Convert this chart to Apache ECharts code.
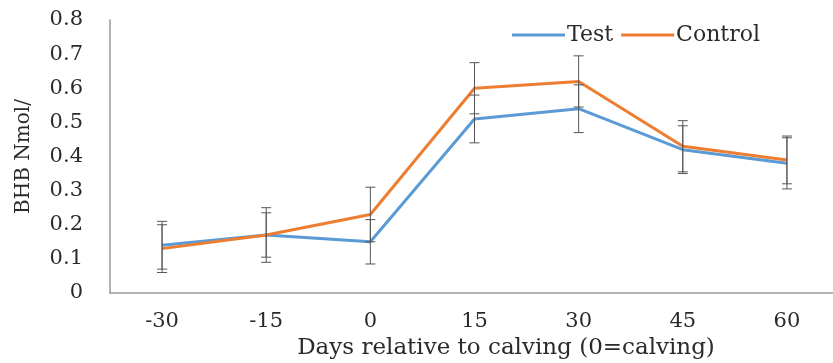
<!DOCTYPE html>
<html>
<head>
<meta charset="utf-8">
<script src="https://cdn.jsdelivr.net/npm/echarts@6/dist/echarts.min.js"></script>
<style>
html,body{margin:0;padding:0;background:#fff;}
#chart{width:833px;height:363px;}
</style>
</head>
<body>
<div id="chart"></div>
<script>
var categories = ['-30', '-15', '0', '15', '30', '45', '60'];
var testValues = [0.14, 0.17, 0.15, 0.51, 0.54, 0.42, 0.38];
var controlValues = [0.13, 0.17, 0.23, 0.60, 0.62, 0.43, 0.39];
var testErr = [0.07, 0.065, 0.065, 0.07, 0.07, 0.07, 0.075];
var controlErr = [0.07, 0.08, 0.08, 0.075, 0.075, 0.075, 0.07];
var yTicks = { min: 0, max: 0.8, interval: 0.1 };

var FONT = 'DejaVu Serif';
var TXT = '#2a2a2a';

function errData(vals, errs) {
  return vals.map(function (v, i) { return [i, v - errs[i], v + errs[i]]; });
}
function renderErr(params, api) {
  var x = api.value(0);
  var lo = api.coord([x, api.value(1)]);
  var hi = api.coord([x, api.value(2)]);
  var hw = 5;
  var st = { stroke: '#555', lineWidth: 1 };
  return {
    type: 'group',
    children: [
      { type: 'line', shape: { x1: hi[0], y1: hi[1], x2: lo[0], y2: lo[1] }, style: st },
      { type: 'line', shape: { x1: hi[0] - hw, y1: hi[1], x2: hi[0] + hw, y2: hi[1] }, style: st },
      { type: 'line', shape: { x1: lo[0] - hw, y1: lo[1], x2: lo[0] + hw, y2: lo[1] }, style: st }
    ]
  };
}

var chart = echarts.init(document.getElementById('chart'));
chart.setOption({
  animation: false,
  backgroundColor: '#fff',
  grid: { left: 110, right: -6, top: 20, bottom: 70, containLabel: false, outerBoundsMode: 'none' },
  legend: {
    top: 19,
    left: 507,
    itemWidth: 53,
    itemHeight: 3,
    itemGap: 8,
    data: [
      { name: 'Test', icon: 'rect' },
      { name: 'Control', icon: 'rect' }
    ],
    textStyle: { fontFamily: FONT, fontSize: 22, color: TXT, padding: [0, 0, 0, -3] }
  },
  xAxis: {
    type: 'category',
    data: categories,
    boundaryGap: true,
    axisLine: { show: true, lineStyle: { color: '#999', width: 1.5 } },
    axisTick: { show: false },
    axisLabel: { fontFamily: FONT, fontSize: 21, color: TXT, margin: 18 },
    name: 'Days relative to calving (0=calving)',
    nameLocation: 'middle',
    nameGap: 43,
    nameTextStyle: { fontFamily: FONT, fontSize: 23, color: TXT, padding: [0, 0, 0, 63] }
  },
  yAxis: {
    type: 'value',
    min: yTicks.min,
    max: yTicks.max,
    interval: yTicks.interval,
    splitLine: { show: false },
    axisLine: { show: true, lineStyle: { color: '#999', width: 1.5 } },
    axisTick: { show: false },
    axisLabel: { fontFamily: FONT, fontSize: 21, color: TXT, margin: 27 },
    name: 'BHB Nmol/',
    nameLocation: 'middle',
    nameGap: 76,
    nameTextStyle: { fontFamily: FONT, fontSize: 20, color: TXT }
  },
  series: [
    {
      name: 'Test', type: 'line', data: testValues, symbol: 'none',
      lineStyle: { color: '#5B9BD5', width: 3 }, itemStyle: { color: '#5B9BD5' }, z: 2
    },
    {
      name: 'Control', type: 'line', data: controlValues, symbol: 'none',
      lineStyle: { color: '#ED7D31', width: 3 }, itemStyle: { color: '#ED7D31' }, z: 3
    },
    {
      name: 'Test error', type: 'custom', renderItem: renderErr,
      data: errData(testValues, testErr), z: 5, encode: { x: 0, y: [1, 2] }
    },
    {
      name: 'Control error', type: 'custom', renderItem: renderErr,
      data: errData(controlValues, controlErr), z: 5, encode: { x: 0, y: [1, 2] }
    }
  ]
});
</script>
</body>
</html>
